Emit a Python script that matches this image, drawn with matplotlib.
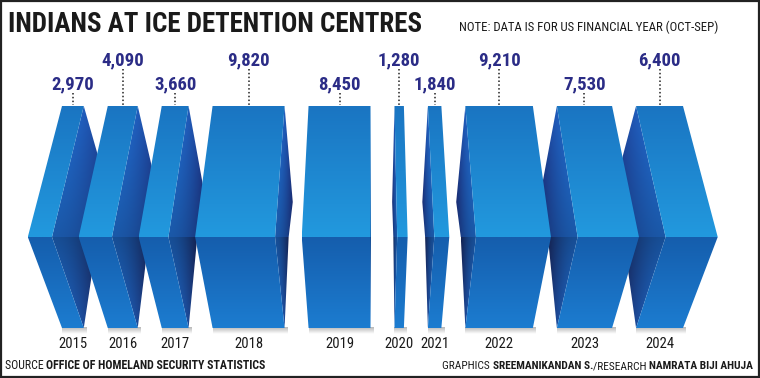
import numpy as np
import matplotlib
matplotlib.use('Agg')
import matplotlib.pyplot as plt
import matplotlib.font_manager as fm
from matplotlib.patches import Polygon, Rectangle
from matplotlib.colors import to_rgb


years = ['2015', '2016', '2017', '2018', '2019', '2020', '2021', '2022', '2023', '2024']
detained = [2970, 4090, 3660, 9820, 8450, 1280, 1840, 9210, 7530, 6400]
value_labels = ['2,970', '4,090', '3,660', '9,820', '8,450', '1,280', '1,840', '9,210', '7,530', '6,400']

title = 'INDIANS AT ICE DETENTION CENTRES'
note = 'NOTE: DATA IS FOR US FINANCIAL YEAR (OCT-SEP)'
source_pieces = [('SOURCE ', 'normal'), ('OFFICE OF HOMELAND SECURITY STATISTICS', 'bold')]
credit_pieces = [('GRAPHICS ', 'normal'), ('SREEMANIKANDAN S.', 'bold'),
                 ('/RESEARCH ', 'normal'), ('NAMRATA BIJI AHUJA', 'bold')]

# pick a condensed family that is installed
installed = set(f.name for f in fm.fontManager.ttflist)
NARROW = 'DejaVu Sans'
for cand in ['Roboto Condensed', 'Archivo Narrow', 'PT Sans Narrow', 'Liberation Sans Narrow',
             'Barlow Condensed', 'Sofia Sans Condensed']:
    if cand in installed:
        NARROW = cand
        break

W, H = 760, 378
fig = plt.figure(figsize=(7.6, 3.78), dpi=100)
ax = fig.add_axes([0, 0, 1, 1])
ax.axis('off')

# block geometry (pixels)
y_top, y_peak, y_mid, y_bot = 106, 202, 237, 328
px_per_unit = 0.00733
gap = 24
x_start = 62
vp = 370          # vanishing point
persp = 1.111     # ridge is closer to the viewer

widths = np.array(detained) * px_per_unit
lefts = x_start + np.concatenate([[0], np.cumsum(widths[:-1] + gap)])
rights = lefts + widths
centers = (lefts + rights) / 2


def grad_fill(verts, grid, z):
    verts = np.array(verts)
    x0, y0 = verts.min(axis=0)
    x1, y1 = verts.max(axis=0)
    poly = Polygon(verts, closed=True, facecolor='none', edgecolor='none', transform=ax.transData)
    ax.add_patch(poly)
    im = ax.imshow(grid, extent=(x0, x1, y1, y0), origin='upper', interpolation='bilinear',
                   zorder=z, aspect='auto')
    im.set_clip_path(poly)


def vgrad(c1, c2, n=64):
    t = np.linspace(0, 1, n)[:, None, None]
    return (1 - t) * np.array(to_rgb(c1)) + t * np.array(to_rgb(c2)) * np.ones((1, 2, 1))


def side_grid(c_outer, c_crease, flip, top_f, bot_f, n=48):
    tx = np.linspace(0, 1, n) ** 1.8
    if flip:
        tx = tx[::-1]
    row = (1 - tx)[:, None] * np.array(to_rgb(c_outer)) + tx[:, None] * np.array(to_rgb(c_crease))
    fy = np.linspace(top_f, bot_f, n)[:, None, None]
    return np.clip(row[None, :, :] * fy, 0, 1)


for i in range(len(detained)):
    xl, xr = lefts[i], rights[i]
    ml = vp + persp * (xl - vp)
    mr = vp + persp * (xr - vp)
    z = 10 - abs(centers[i] - vp) / 100.0

    # soft shadow under the block
    sh = np.zeros((16, 2, 4))
    sh[..., :3] = 0.5
    sh[..., 3] = np.linspace(0.55, 0.0, 16)[:, None]
    ax.imshow(sh, extent=(xl, xr + 3, y_bot + 6, y_bot - 1), origin='upper',
              interpolation='bilinear', zorder=z - 0.05, aspect='auto')

    # side face, on the side facing the vanishing point
    if centers[i] < vp:
        c, mc, sgn = xr, mr, 1
        dist = vp - xr
    else:
        c, mc, sgn = xl, ml, -1
        dist = xl - vp
    off = sgn * 0.001 * max(dist, 0) * (y_peak - y_top)
    upper_side = [(c, y_top), (c + off, y_peak), (c + off * 0.5, y_mid), (mc, y_mid)]
    lower_side = [(mc, y_mid), (c + off * 0.5, y_mid), (c, y_bot)]
    grad_fill(upper_side, side_grid('#1f68c6', '#1c2f7c', sgn < 0, 1.08, 0.85), z)
    grad_fill(lower_side, side_grid('#1b5cb0', '#18285f', sgn < 0, 0.85, 1.15), z)

    # front faces
    top_face = [(xl, y_top), (xr, y_top), (mr, y_mid), (ml, y_mid)]
    low_face = [(ml, y_mid), (mr, y_mid), (xr, y_bot), (xl, y_bot)]
    grad_fill(top_face, vgrad('#1a75c2', '#2299de'), z + 0.01)
    grad_fill(low_face, vgrad('#155ead', '#1c7cd0'), z + 0.01)

ax.set_xlim(0, W)
ax.set_ylim(H, 0)

# value labels with dotted leaders, alternating heights
for i, lab in enumerate(value_labels):
    high = i % 2 == 1
    base = 65 if high else 89
    ax.text(centers[i], base, lab, ha='center', va='baseline', fontsize=13.5,
            fontweight='bold', color='#2b2c86', family=NARROW, zorder=20)
    ax.plot([centers[i], centers[i]], [base + 4, y_top - 1], color='#222222', lw=1.1,
            ls=(0, (1, 1.5)), zorder=20)

# year labels
for i, yr in enumerate(years):
    ax.text(centers[i], 348, yr, ha='center', va='baseline', fontsize=10.5,
            color='#1a1a1a', family=NARROW, zorder=20)

renderer = fig.canvas.get_renderer()


def text_run(x, y, pieces, target_w, align='left', size=8.2):
    # lay pieces side by side, then resize so the run spans target_w pixels
    arts = []
    for s, wt in pieces:
        t = ax.text(0, y, s, ha='left', va='baseline', fontsize=size, fontweight=wt,
                    color='#1a1a1a', family=NARROW)
        arts.append(t)
    total = sum(a.get_window_extent(renderer).width for a in arts)
    for a in arts:
        a.set_fontsize(size * target_w / total)
    ws = [a.get_window_extent(renderer).width for a in arts]
    pos = x if align == 'left' else x - sum(ws)
    for a, w in zip(arts, ws):
        a.set_x(pos)
        pos += w


text_run(8, 32, [(title, 'bold')], 414, size=22)
text_run(459, 31, [(note, 'normal')], 261, size=10)
text_run(5, 369, source_pieces, 260)
text_run(753, 369, credit_pieces, 311, align='right')

ax.add_patch(Rectangle((1, 1), W - 2, H - 2, fill=False, edgecolor='#222222', lw=1.6, zorder=30))

fig.savefig('out.png', dpi=100)
